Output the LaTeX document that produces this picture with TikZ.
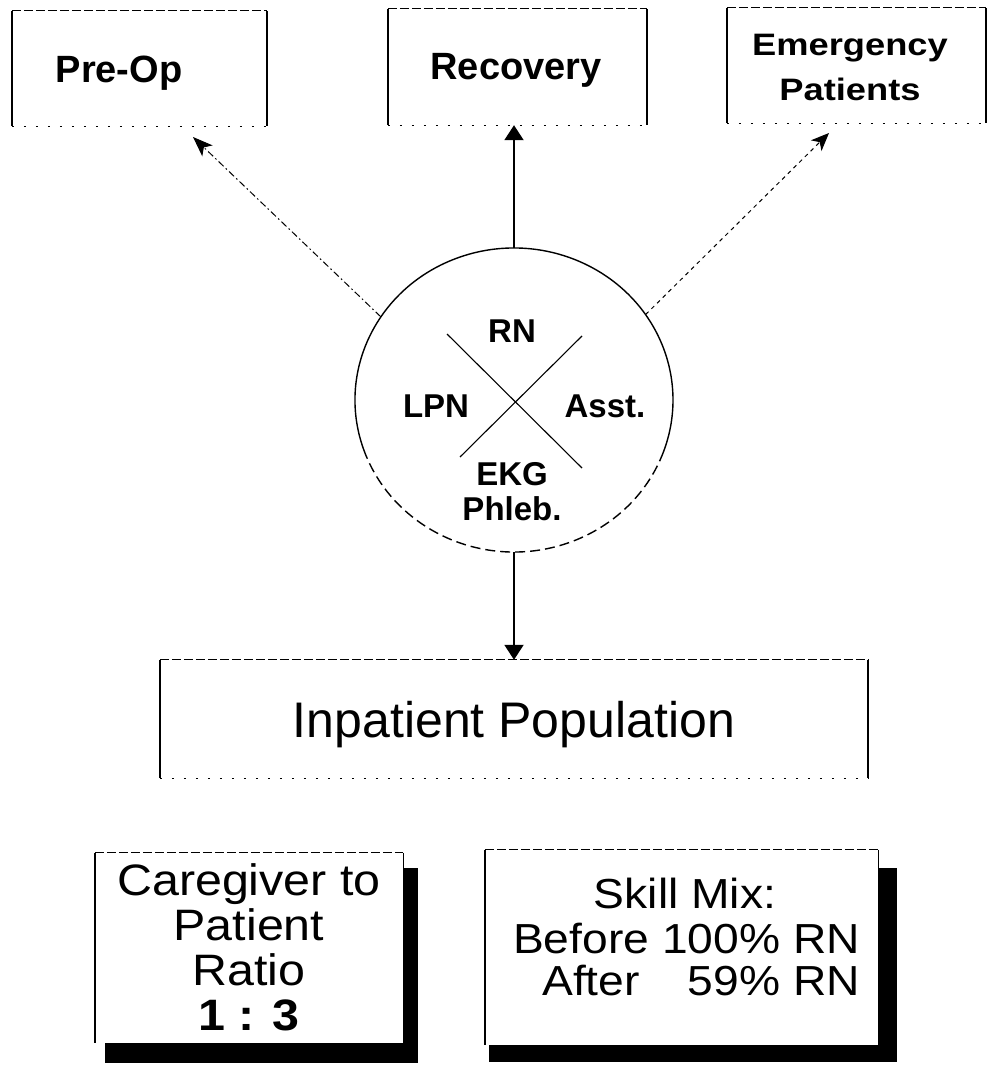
\documentclass[tikz,border=0pt]{standalone}
\usepackage{fontspec}
\setmainfont{Liberation Sans}
\newfontfamily\plainsans{Liberation Sans}
\newfontfamily\widesans[FakeStretch=1.10]{Liberation Sans}
\newfontfamily\emsans[FakeStretch=1.17]{Liberation Sans}
\usetikzlibrary{arrows.meta,shapes.geometric,calc}

\begin{document}
\begin{tikzpicture}[x=1pt, y=-1pt,
  area/.style 2 args={inner sep=0pt, minimum width=#1, minimum height=#2},
  side/.style={line width=2pt},
  thinside/.style={line width=1.2pt},
  topline/.style={line width=0.9pt, dash pattern=on 9pt off 3pt},
  botline/.style={line width=0.9pt, dash pattern=on 2pt off 10pt},
  word/.style={inner sep=0pt, anchor=base},
  topfont/.style={font=\plainsans\bfseries\fontsize{38}{40}\selectfont},
  emfont/.style={font=\emsans\bfseries\fontsize{31}{33}\selectfont},
  rolefont/.style={font=\plainsans\bfseries\fontsize{33}{35}\selectfont},
  bigfont/.style={font=\plainsans\fontsize{50}{52}\selectfont},
  notefont/.style={font=\widesans\fontsize{44}{46}\selectfont},
  mixfont/.style={font=\widesans\fontsize{42}{44}\selectfont},
  solidarrow/.style={line width=2pt, -{Triangle[length=15pt, width=19pt]}},
  dashdotarrow/.style={line width=1pt, dash pattern=on 7pt off 3pt on 1.5pt off 3pt,
    -{Stealth[length=20pt, width=15pt, inset=5pt]}},
  dotarrow/.style={line width=1pt, dash pattern=on 4pt off 4pt,
    -{Stealth[length=18pt, width=15pt, inset=5pt]}},
  rim/.style={line width=1.4pt},
  brokenrim/.style={line width=1.4pt, dash pattern=on 10pt off 5pt},
  crossline/.style={line width=1.1pt}
]
\fill[white] (0,0) rectangle (993,1068);
\useasboundingbox (0,0) rectangle (993,1068);

% ---------- top row of destinations ----------
\node[area={255}{115}] (preop)    at (139.5,68.5) {};
\node[area={259}{116}] (recovery) at (517.5,67)   {};
\node[area={259}{115}] (emerg)    at (856.5,65.5) {};

\foreach \b in {preop,recovery,emerg}{
  \draw[side] (\b.north west) -- (\b.south west);
  \draw[side] (\b.north east) -- (\b.south east);
  \draw[topline] (\b.north west) -- (\b.north east);
  \draw[botline] (\b.south west) -- (\b.south east);
}

\node[word, topfont] (preoplbl) at (119,82) {Pre-Op};
\node[word, topfont] (recovlbl) at (516,79) {Recovery};
\node[word, emfont]  (emerglbl) at (850,55) {Emergency};
\node[word, emfont]  (patlbl)   at (850,100) {Patients};

% ---------- staff mix circle ----------
\node[ellipse, area={318}{304}] (staff) at (514,400) {};
\draw[rim] (staff.center) ++(160:159 and 152) arc[start angle=160, end angle=380, x radius=159, y radius=152];
\draw[brokenrim] (staff.center) ++(20:159 and 152) arc[start angle=20, end angle=160, x radius=159, y radius=152];

\draw[crossline] ($(staff.center)+(-67,-66)$) -- ($(staff.center)+(68,68)$);
\draw[crossline] ($(staff.center)+(68,-64)$) -- ($(staff.center)+(-54,57)$);

\node[word, rolefont] (rn)    at (512,342) {RN};
\node[word, rolefont] (lpn)   at (436,417) {LPN};
\node[word, rolefont] (asst)  at (605,417) {Asst.};
\node[word, rolefont] (ekg)   at (512,485) {EKG};
\node[word, rolefont] (phleb) at (512,520) {Phleb.};

% ---------- connectors ----------
\coordinate (preoptip) at (193,137);
\coordinate (emergtip) at (829,133);
\draw[dashdotarrow] (staff.148) -- (preoptip);
\draw[dotarrow] (staff.33) -- (emergtip);
\draw[solidarrow] (staff.north) -- (staff.north |- recovery.south);

% ---------- inpatient population ----------
\node[area={708}{118}] (inpatient) at (514,719) {};
\draw[side] (inpatient.north west) -- (inpatient.south west);
\draw[side] (inpatient.north east) -- (inpatient.south east);
\draw[topline] (inpatient.north west) -- (inpatient.north east);
\draw[botline] (inpatient.south west) -- (inpatient.south east);
\node[word, bigfont] (inplbl) at (514,737) {Inpatient Population};

\draw[solidarrow] (staff.south) -- (staff.south |- inpatient.north);

% ---------- result panels with drop shadows ----------
\node[area={308}{190}] (ratio) at (249,948)   {};
\node[area={393}{195}] (skill) at (681.5,947.5) {};

\fill[black] ($(ratio.north west)+(10,15)$) rectangle ($(ratio.south east)+(15,20)$);
\fill[black] ($(skill.north west)+(4,18)$) rectangle ($(skill.south east)+(19,17)$);

\foreach \b in {ratio,skill}{
  \fill[white] (\b.north west) rectangle (\b.south east);
  \draw[side] (\b.north west) -- (\b.south west);
  \draw[thinside] (\b.north east) -- (\b.south east);
  \draw[topline] (\b.north west) -- (\b.north east);
}

\node[word, notefont] (r1) at (249,895)  {Caregiver to};
\node[word, notefont] (r2) at (249,940)  {Patient};
\node[word, notefont] (r3) at (249,985)  {Ratio};
\node[word, notefont] (r4) at (249,1030) {\bfseries 1 : 3};

\node[word, mixfont] (s1) at (685,908) {Skill Mix:};
\node[word, mixfont, anchor=base east] (s2) at (860,953) {Before 100\% RN};
\node[word, mixfont, anchor=base west] (s3a) at (542,995) {After};
\node[word, mixfont, anchor=base east] (s3b) at (860,995) {59\% RN};
\end{tikzpicture}
\end{document}
